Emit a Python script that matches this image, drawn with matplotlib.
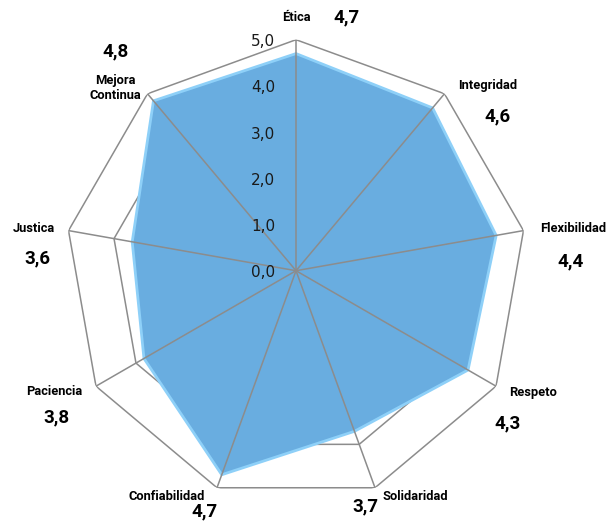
import numpy as np
import matplotlib.pyplot as plt

# datos
categorias = ["Ética", "Integridad", "Flexibilidad", "Respeto", "Solidaridad",
              "Confiabilidad", "Paciencia", "Justica", "Mejora\nContinua"]
valores = [4.7, 4.6, 4.4, 4.3, 3.7, 4.7, 3.8, 3.6, 4.8]
niveles = [0, 1, 2, 3, 4, 5]
etiquetas_nivel = ["0,0", "1,0", "2,0", "3,0", "4,0", "5,0"]

# posiciones de etiquetas (px respecto al vertice exterior)
off_cat = [(0, 22), (43, 8), (50, 2), (37, -6), (40, -9),
           (-50, -9), (-42, -5), (-35, 2), (-32, 6)]
off_val = [(51, 22), (53, -23), (47, -31), (12, -37), (-10, -19),
           (-12, -24), (-40, -31), (-31, -28), (-32, 42)]

n = len(categorias)
ang = np.arange(n) * 2 * np.pi / n
ang_c = np.append(ang, ang[0])

fig = plt.figure(figsize=(6.15, 5.31), dpi=100)
ax = fig.add_axes([0.1057, 0.0552, 0.7512, 0.870], projection="polar")
ax.set_theta_zero_location("N")
ax.set_theta_direction(-1)
ax.set_ylim(0, 5)
ax.grid(False)
ax.spines["polar"].set_visible(False)
ax.set_xticks([])
ax.set_yticks([])

gris = "#8c8c8c"
for r in niveles[1:]:
    ax.plot(ang_c, [r] * (n + 1), color=gris, lw=1.1, zorder=1)

v = np.append(valores, valores[0])
ax.fill(ang_c, v, facecolor="#69ade0", edgecolor="#8ed0f8", lw=2, zorder=2)

for a in ang:
    ax.plot([a, a], [0, 5], color=gris, lw=1.1, zorder=3)

for r, t in zip(niveles, etiquetas_nivel):
    ax.annotate(t, xy=(0, r), xytext=(-21, -2), textcoords="offset pixels",
                ha="right", va="center", fontsize=11, color="#1a1a1a",
                family="DejaVu Sans", zorder=4)

for i in range(n):
    ax.annotate(categorias[i], xy=(ang[i], 5), xytext=off_cat[i],
                textcoords="offset pixels", ha="center", va="center",
                fontsize=9.3, fontweight="bold", family="Roboto",
                linespacing=1.25, annotation_clip=False)
    ax.annotate(f"{valores[i]:.1f}".replace(".", ","), xy=(ang[i], 5),
                xytext=off_val[i], textcoords="offset pixels",
                ha="center", va="center", fontsize=13.5, fontweight="bold",
                family="Roboto", annotation_clip=False)

fig.savefig("out.png", dpi=100)
